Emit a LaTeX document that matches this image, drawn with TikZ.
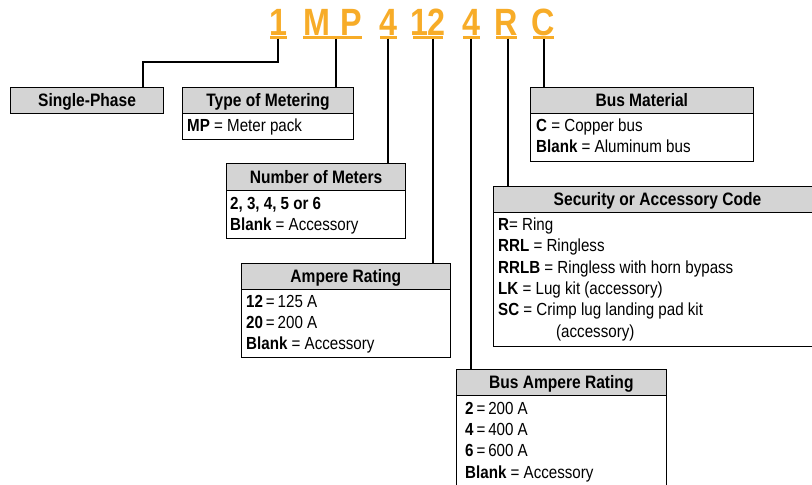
\documentclass[tikz,border=0pt]{standalone}
\usepackage{fontspec}
\setmainfont[FakeStretch=0.865]{Liberation Sans}
\newfontfamily\codefont[FakeStretch=0.85]{Liberation Sans}
\definecolor{codeorange}{RGB}{247,172,40}
\definecolor{hdrgray}{RGB}{212,212,212}
\tikzset{
  hdr/.style={draw=black, line width=1.1pt, fill=hdrgray, inner sep=0pt, anchor=north west,
    minimum height=26pt, text height=12.7pt, text depth=0pt,
    font=\bfseries\fontsize{18}{19}\selectfont},
  bodybox/.style={draw=black, line width=1.1pt, fill=white, inner sep=0pt, anchor=north west},
  txt/.style={anchor=base west, inner sep=0pt, font=\fontsize{17.5}{19}\selectfont},
  code/.style={anchor=base, inner sep=0pt, text=codeorange, font=\codefont\bfseries\fontsize{38}{40}\selectfont},
  uline/.style={fill=codeorange, inner sep=0pt, minimum height=2.5pt, anchor=north},
  conn/.style={line width=2pt}
}
\begin{document}
\begin{tikzpicture}[x=1pt,y=-1pt]
\useasboundingbox (0,0) rectangle (812,485);
\clip (0,0) rectangle (812,485);

% code letters
\node[code] (c1) at (278.5,35) {1};
\node[code] (cMP) at (332.5,35) {M\kern10pt P};
\node[code] (c4a) at (388.5,35) {4};
\node[code] (c12) at (428,35) {12};
\node[code] (c4b) at (471.5,35) {4};
\node[code] (cR) at (506.5,35) {R};
\node[code] (cC) at (543.5,35) {C};
\node[uline, minimum width=17pt] (u1) at (278.5,36) {};
\node[uline, minimum width=59pt] (uMP) at (332.5,36) {};
\node[uline, minimum width=17pt] (u4a) at (388.5,36) {};
\node[uline, minimum width=30pt] (u12) at (428,36) {};
\node[uline, minimum width=17pt] (u4b) at (471.5,36) {};
\node[uline, minimum width=21pt] (uR) at (506.5,36) {};
\node[uline, minimum width=21pt] (uC) at (543.5,36) {};

% boxes
\node[hdr, minimum width=153pt] (sp) at (10,86.5) {Single-Phase};

\node[bodybox, minimum width=171pt, minimum height=26.5pt] (tmb) at (182,112.5) {};
\node[hdr, minimum width=171pt] (tm) at (182,86.5) {Type of Metering};
\node[txt] (tm1) at (187,131) {\textbf{MP} = Meter pack};

\node[bodybox, minimum width=179pt, minimum height=48pt] (nmb) at (226,190) {};
\node[hdr, minimum width=179pt, minimum height=27pt] (nm) at (226,163) {Number of Meters};
\node[txt] (nm1) at (230,209) {\textbf{2, 3, 4, 5 or 6}};
\node[txt] (nm2) at (230,230.5) {\textbf{Blank} = Accessory};

\node[bodybox, minimum width=209.5pt, minimum height=68pt] (arb) at (240.5,289) {};
\node[hdr, minimum width=209.5pt, minimum height=26.5pt] (ar) at (240.5,262.5) {Ampere Rating};
\node[txt] (ar1) at (246,307) {\textbf{12}\,=\,125 A};
\node[txt] (ar2) at (246,328.3) {\textbf{20}\,=\,200 A};
\node[txt] (ar3) at (246,349.6) {\textbf{Blank} = Accessory};

\node[bodybox, minimum width=223.5pt, minimum height=48.5pt] (bmb) at (529.5,112.5) {};
\node[hdr, minimum width=223.5pt] (bm) at (529.5,86.5) {Bus Material};
\node[txt] (bm1) at (536,131) {\textbf{C} = Copper bus};
\node[txt] (bm2) at (536,152) {\textbf{Blank} = Aluminum bus};

\node[bodybox, minimum width=337pt, minimum height=134.5pt] (scb) at (493,211.5) {};
\node[hdr, minimum width=337pt] (sc) at (493,185.5) {\hspace*{-9pt}Security or Accessory Code};
\node[txt] (sc1) at (498,230.5) {\textbf{R}= Ring};
\node[txt] (sc2) at (498,251.8) {\textbf{RRL} = Ringless};
\node[txt] (sc3) at (498,273.1) {\textbf{RRLB} = Ringless with horn bypass};
\node[txt] (sc4) at (498,294.4) {\textbf{LK} = Lug kit (accessory)};
\node[txt] (sc5) at (498,315.7) {\textbf{SC} = Crimp lug landing pad kit};
\node[txt] (sc6) at (556,337) {(accessory)};

\node[bodybox, minimum width=210.5pt, minimum height=110pt] (bab) at (455.5,395) {};
\node[hdr, minimum width=210.5pt] (ba) at (455.5,369) {Bus Ampere Rating};
\node[txt] (ba1) at (465,414) {\textbf{2}\,=\,200 A};
\node[txt] (ba2) at (465,435.3) {\textbf{4}\,=\,400 A};
\node[txt] (ba3) at (465,456.6) {\textbf{6}\,=\,600 A};
\node[txt] (ba4) at (465,478) {\textbf{Blank} = Accessory};

% connectors
\coordinate (s1) at (277.7,38.5);
\coordinate (k1) at (143,62);
\coordinate (sMP) at (336,38.5);
\coordinate (s4a) at (387.7,38.5);
\coordinate (s12) at (432.7,38.5);
\coordinate (s4b) at (470.7,38.5);
\coordinate (sR) at (507.7,38.5);
\coordinate (sC) at (544.3,38.5);
\draw[conn] (s1) |- (k1) -- (k1 |- sp.north);
\draw[conn] (sMP) -- (sMP |- tm.north);
\draw[conn] (s4a) -- (s4a |- nm.north);
\draw[conn] (s12) -- (s12 |- ar.north);
\draw[conn] (s4b) -- (s4b |- ba.north);
\draw[conn] (sR) -- (sR |- sc.north);
\draw[conn] (sC) -- (sC |- bm.north);
\end{tikzpicture}
\end{document}
